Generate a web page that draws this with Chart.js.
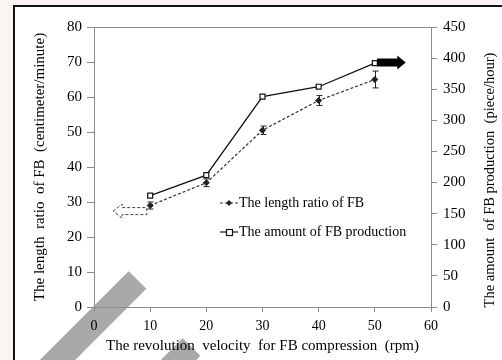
<!DOCTYPE html>
<html lang="en">
<head>
<meta charset="UTF-8">
<title>FB compression chart</title>
<script src="https://cdn.jsdelivr.net/npm/chart.js"></script>
<style>
  html, body { margin: 0; padding: 0; }
  body { width: 502px; height: 360px; overflow: hidden; background: #fbf4f3; position: relative; }
  .frame { position: absolute; left: 13px; top: 5px; width: 520px; height: 400px; border: 2px solid #111; background: #fff; box-sizing: border-box; }
  .stripe { position: absolute; width: 25px; height: 160px; background: #a9a9a9; transform-origin: 50% 0; transform: rotate(45deg); }
  #chart { position: absolute; left: 0; top: 0; }
</style>
</head>
<body>
<div class="frame"></div>
<!-- watermark stripes -->
<div class="stripe" style="left:125px; top:280px;"></div>
<div class="stripe" style="left:179px; top:347px;"></div>
<canvas id="chart" width="502" height="360"></canvas>

<script>
// data
const velocity = [10, 20, 30, 40, 50];
const lengthRatio = [29, 35.5, 50.5, 59, 65];
const lengthError = [1, 1.1, 1.2, 1.4, 2.4];
const production = [179, 212, 338, 354, 392];

const serif = '"Liberation Serif", "Times New Roman", serif';
const font14 = { family: serif, size: 14 };
const font15 = { family: serif, size: 15 };

// error bars, arrows, plot frame, right title, legend
const extras = {
    id: 'extras',
    beforeDatasetsDraw(chart) {
        const { ctx, chartArea: a } = chart;
        ctx.save();
        ctx.strokeStyle = '#8a8a8a';
        ctx.lineWidth = 1;
        ctx.strokeRect(a.left + 0.5, a.top + 0.5, a.right - a.left, a.bottom - a.top);
        ctx.restore();
    },
    afterDatasetsDraw(chart) {
        const { ctx } = chart;
        const xs = chart.scales.x, ys = chart.scales.y, y1 = chart.scales.y1;
        ctx.save();

        // error bars on the length ratio
        ctx.strokeStyle = '#222';
        ctx.lineWidth = 1;
        velocity.forEach((v, i) => {
            const x = Math.round(xs.getPixelForValue(v)) + 0.5;
            const top = ys.getPixelForValue(lengthRatio[i] + lengthError[i]);
            const bot = ys.getPixelForValue(lengthRatio[i] - lengthError[i]);
            ctx.beginPath();
            ctx.moveTo(x, top); ctx.lineTo(x, bot);
            ctx.moveTo(x - 3, top); ctx.lineTo(x + 3, top);
            ctx.moveTo(x - 3, bot); ctx.lineTo(x + 3, bot);
            ctx.stroke();
        });

        // hollow dashed arrow pointing left (length ratio -> left axis)
        let yc = ys.getPixelForValue(27.4);
        let tip = xs.getPixelForValue(3.4), neck = xs.getPixelForValue(5), tail = xs.getPixelForValue(9.4);
        ctx.setLineDash([3, 2]);
        ctx.strokeStyle = '#444';
        ctx.beginPath();
        ctx.moveTo(tip, yc);
        ctx.lineTo(neck, yc - 7);
        ctx.lineTo(neck, yc - 3.5);
        ctx.lineTo(tail, yc - 3.5);
        ctx.lineTo(tail, yc + 3.5);
        ctx.lineTo(neck, yc + 3.5);
        ctx.lineTo(neck, yc + 7);
        ctx.closePath();
        ctx.stroke();
        ctx.setLineDash([]);

        // filled arrow pointing right (production -> right axis)
        yc = y1.getPixelForValue(393);
        tail = xs.getPixelForValue(50.4); neck = xs.getPixelForValue(54); tip = xs.getPixelForValue(55.5);
        ctx.fillStyle = '#000';
        ctx.beginPath();
        ctx.moveTo(tip, yc);
        ctx.lineTo(neck, yc - 7);
        ctx.lineTo(neck, yc - 4);
        ctx.lineTo(tail, yc - 4);
        ctx.lineTo(tail, yc + 4);
        ctx.lineTo(neck, yc + 4);
        ctx.lineTo(neck, yc + 7);
        ctx.closePath();
        ctx.fill();
        ctx.restore();
    },
    afterDraw(chart) {
        const { ctx } = chart;
        ctx.save();
        ctx.fillStyle = '#000';
        ctx.font = '14.5px ' + serif;

        // right axis title, reading bottom to top
        ctx.translate(490, 180);
        ctx.rotate(-Math.PI / 2);
        ctx.textAlign = 'center';
        ctx.textBaseline = 'middle';
        ctx.fillText('The amount  of FB production  (piece/hour)', 0, 0);
        ctx.setTransform(1, 0, 0, 1, 0, 0);

        // legend inside the plot
        ctx.font = '14px ' + serif;
        const rows = [203, 232];
        chart.data.datasets.forEach((ds, i) => {
            const y = rows[i];
            ctx.strokeStyle = ds.borderColor;
            ctx.lineWidth = 1.2;
            ctx.setLineDash(ds.borderDash || []);
            ctx.beginPath();
            ctx.moveTo(220, y); ctx.lineTo(238, y);
            ctx.stroke();
            ctx.setLineDash([]);
            if (ds.pointStyle === 'rectRot') {
                ctx.fillStyle = '#222';
                ctx.beginPath();
                ctx.moveTo(229, y - 3); ctx.lineTo(232, y); ctx.lineTo(229, y + 3); ctx.lineTo(226, y);
                ctx.closePath();
                ctx.fill();
            } else {
                ctx.fillStyle = '#fff';
                ctx.fillRect(226, y - 3, 6, 6);
                ctx.strokeStyle = '#111';
                ctx.strokeRect(226.5, y - 2.5, 6, 6);
            }
            ctx.fillStyle = '#000';
            ctx.textAlign = 'left';
            ctx.textBaseline = 'middle';
            ctx.fillText(ds.label, 239, y);
        });
        ctx.restore();
    }
};

const ctx = document.getElementById('chart').getContext('2d');
new Chart(ctx, {
    type: 'line',
    data: {
        datasets: [{
            label: 'The length ratio of FB',
            data: velocity.map((v, i) => ({ x: v, y: lengthRatio[i] })),
            yAxisID: 'y',
            borderColor: '#333',
            borderWidth: 1.2,
            borderDash: [3, 2],
            pointStyle: 'rectRot',
            pointRadius: 3,
            pointBackgroundColor: '#222',
            pointBorderColor: '#222',
            pointBorderWidth: 1,
            tension: 0
        }, {
            label: 'The amount of FB production',
            data: velocity.map((v, i) => ({ x: v, y: production[i] })),
            yAxisID: 'y1',
            borderColor: '#111',
            borderWidth: 1.3,
            pointStyle: 'rect',
            pointRadius: 3.5,
            pointBackgroundColor: '#fff',
            pointBorderColor: '#111',
            pointBorderWidth: 1.2,
            tension: 0
        }]
    },
    options: {
        responsive: false,
        animation: false,
        layout: { padding: { left: 14, top: 27, right: 0, bottom: 0 } },
        plugins: { legend: { display: false }, tooltip: { enabled: false } },
        scales: {
            x: {
                type: 'linear', min: 0, max: 60,
                ticks: { stepSize: 10, color: '#000', font: font14, padding: 6 },
                grid: { drawOnChartArea: false, tickLength: 5, color: '#8a8a8a' },
                border: { color: '#8a8a8a' },
                title: { display: true, text: 'The revolution  velocity  for FB compression  (rpm)', color: '#000', font: font15, padding: { top: 0, bottom: 5 } },
                afterFit(s) { s.height = 53; }
            },
            y: {
                position: 'left', min: 0, max: 80,
                ticks: { stepSize: 10, color: '#000', font: font15, padding: 5 },
                grid: { drawOnChartArea: false, tickLength: 7, color: '#8a8a8a' },
                border: { color: '#8a8a8a' },
                title: { display: true, text: 'The length  ratio  of FB  (centimeter/minute)', color: '#000', font: font15, padding: { top: 17, bottom: 0 } },
                afterFit(s) { s.width = 80; }
            },
            y1: {
                position: 'right', min: 0, max: 450,
                ticks: { stepSize: 50, color: '#000', font: font15, padding: 6 },
                grid: { drawOnChartArea: false, tickLength: 6, color: '#8a8a8a' },
                border: { color: '#8a8a8a' },
                afterFit(s) { s.width = 71; }
            }
        }
    },
    plugins: [extras]
});
</script>
</body>
</html>
